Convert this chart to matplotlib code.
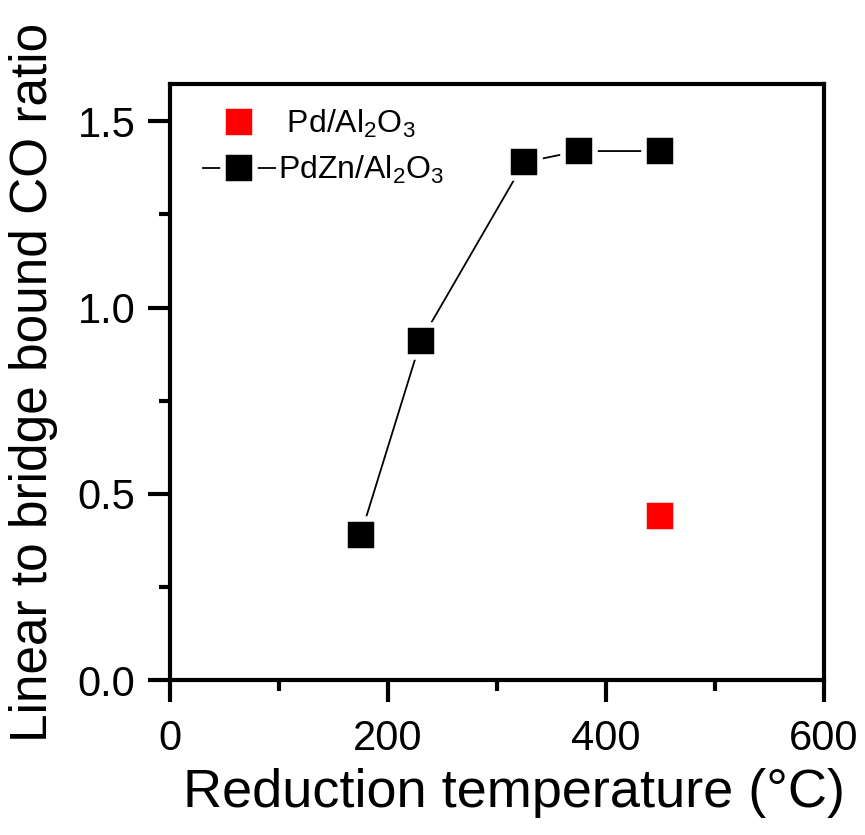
import matplotlib
matplotlib.use("Agg")
import matplotlib.pyplot as plt
from matplotlib.ticker import MultipleLocator, FormatStrFormatter

plt.rcParams['font.family'] = ['Liberation Sans', 'DejaVu Sans']
plt.rcParams['mathtext.fontset'] = 'custom'
plt.rcParams['mathtext.rm'] = 'Liberation Sans'
plt.rcParams['mathtext.it'] = 'Liberation Sans'
plt.rcParams['mathtext.default'] = 'regular'

pdzn_temp = [175, 230, 325, 375, 450]
pdzn_ratio = [0.39, 0.91, 1.39, 1.42, 1.42]
pd_temp = [450]
pd_ratio = [0.44]

label_pd = " Pd/Al$_2$O$_3$"
label_pdzn = "PdZn/Al$_2$O$_3$"

fig = plt.figure(figsize=(8.65, 8.35), dpi=100)
ax = fig.add_axes([0.1965, 0.1856, 0.7561, 0.7138])

ax.plot(pd_temp, pd_ratio, linestyle='none', marker='s', markersize=23,
        markerfacecolor='#ff0000', markeredgecolor='white', markeredgewidth=4,
        label=label_pd, zorder=3)
ax.plot(pdzn_temp, pdzn_ratio, color='black', linewidth=1.3, marker='s',
        markersize=23, markerfacecolor='black', markeredgecolor='white',
        markeredgewidth=4, label=label_pdzn, zorder=3)

ax.set_xlim(0, 600)
ax.set_ylim(0, 1.6)
ax.xaxis.set_major_locator(MultipleLocator(200))
ax.xaxis.set_minor_locator(MultipleLocator(100))
ax.yaxis.set_major_locator(MultipleLocator(0.5))
ax.yaxis.set_minor_locator(MultipleLocator(0.25))
ax.yaxis.set_major_formatter(FormatStrFormatter('%.1f'))

for s in ax.spines.values():
    s.set_linewidth(3)
ax.tick_params(which='major', direction='out', length=16, width=3,
               labelsize=30)
ax.tick_params(which='minor', direction='out', length=8, width=3)
ax.tick_params(axis='x', which='major', pad=12)
ax.tick_params(axis='y', which='major', pad=9)
ax.tick_params(top=False, right=False)

ax.set_xlabel("Reduction temperature (°C)", fontsize=39)
ax.xaxis.set_label_coords(0.526, -0.147)
ax.set_ylabel("Linear to bridge bound CO ratio", fontsize=37, labelpad=14)

leg = ax.legend(loc='upper left', frameon=False, fontsize=23,
                handlelength=2.25, handletextpad=0.1, borderaxespad=0.0,
                labelspacing=0.45, borderpad=0.0,
                bbox_to_anchor=(0.05, 0.96))

fig.savefig("out.png", dpi=100)
